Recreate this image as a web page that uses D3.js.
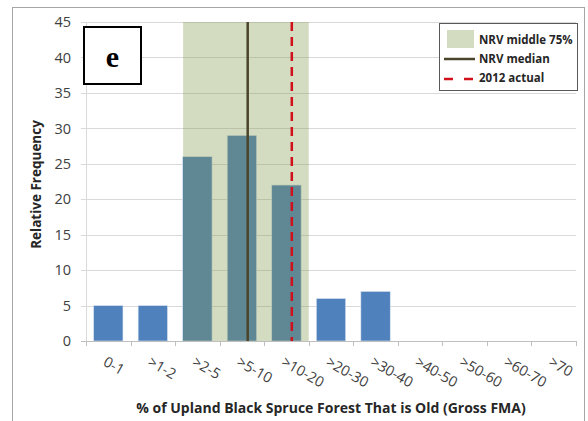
<!DOCTYPE html>
<html><head><meta charset="utf-8">
<script src="https://cdn.jsdelivr.net/npm/d3@7"></script>
<style>
html,body{margin:0;padding:0;background:#fff;}
svg{display:block;}
</style>
</head><body>
<svg id="chart" width="588" height="421"></svg>
<script>
// ---- data ----
const categories = ["0-1", ">1-2", ">2-5", ">5-10", ">10-20", ">20-30", ">30-40", ">40-50", ">50-60", ">60-70", ">70"];
const frequency = [5, 5, 26, 29, 22, 6, 7, 0, 0, 0, 0];
const yTicks = [0, 5, 10, 15, 20, 25, 30, 35, 40, 45];
// positions in category-index units along the x axis
const nrvMiddle75 = [2.18, 5.0];
const nrvMedian = 3.63;
const actual2012 = 4.62;
const legendLabels = ["NRV middle 75%", "NRV median", "2012 actual"];
const panelLabel = "e";
const yTitle = "Relative Frequency";
const xTitle = "% of Upland Black Spruce Forest That is Old (Gross FMA)";

// ---- layout ----
const svg = d3.select("#chart");
const pLeft = 86, pRight = 576, pTop = 22, pBottom = 341;
const font = "'Open Sans', 'Liberation Sans', sans-serif";

const x = d3.scaleBand().domain(categories).range([pLeft, pRight]).paddingInner(0.34).paddingOuter(0.17);
const xi = d3.scaleLinear().domain([0, categories.length]).range([pLeft, pRight]);
const y = d3.scaleLinear().domain([0, 45]).range([pBottom, pTop]);

// outer frame
svg.append("rect").attr("x", 12.5).attr("y", 7.5).attr("width", 572).attr("height", 440)
  .attr("fill", "#fff").attr("stroke", "#a6a6a6").attr("stroke-width", 1);

// grid
svg.append("g").selectAll("line").data(yTicks.filter(d => d > 0)).join("line")
  .attr("x1", pLeft - 5).attr("x2", pRight)
  .attr("y1", d => Math.round(y(d)) + 0.5).attr("y2", d => Math.round(y(d)) + 0.5)
  .attr("stroke", "#d9d9d9").attr("stroke-width", 1);

// y axis line
svg.append("line").attr("x1", pLeft + 0.5).attr("x2", pLeft + 0.5).attr("y1", pTop).attr("y2", pBottom)
  .attr("stroke", "#d9d9d9");

// bars
svg.append("g").selectAll("rect").data(frequency).join("rect")
  .attr("x", (d, i) => x(categories[i]))
  .attr("width", x.bandwidth())
  .attr("y", d => y(d))
  .attr("height", d => y(0) - y(d))
  .attr("fill", "#4f81bd")
  .attr("stroke", "#dfe7f2").attr("stroke-width", 0.6);

// NRV middle 75% shade (translucent, over bars)
svg.append("rect")
  .attr("x", xi(nrvMiddle75[0])).attr("width", xi(nrvMiddle75[1]) - xi(nrvMiddle75[0]))
  .attr("y", y(45)).attr("height", y(0) - y(45))
  .attr("fill", "rgb(126,149,70)").attr("fill-opacity", 0.34);

// x axis line and ticks
svg.append("line").attr("x1", pLeft - 5).attr("x2", pRight).attr("y1", pBottom + 0.5).attr("y2", pBottom + 0.5)
  .attr("stroke", "#bfbfbf");
svg.append("g").selectAll("line").data(d3.range(categories.length + 1)).join("line")
  .attr("x1", d => Math.round(xi(d)) + 0.5).attr("x2", d => Math.round(xi(d)) + 0.5)
  .attr("y1", pBottom).attr("y2", pBottom + 5)
  .attr("stroke", "#bfbfbf");

// median line
svg.append("line").attr("x1", xi(nrvMedian)).attr("x2", xi(nrvMedian)).attr("y1", y(45)).attr("y2", y(0))
  .attr("stroke", "#4a452a").attr("stroke-width", 2.5);

// 2012 actual line
svg.append("line").attr("x1", xi(actual2012)).attr("x2", xi(actual2012)).attr("y1", y(45)).attr("y2", y(0))
  .attr("stroke", "#d0101a").attr("stroke-width", 2.5).attr("stroke-dasharray", "9,6");

// y tick labels
svg.append("g").selectAll("text").data(yTicks).join("text")
  .attr("x", 71).attr("y", d => y(d)).attr("dy", "0.36em")
  .attr("text-anchor", "end").attr("font-family", font).attr("font-size", 14.5).attr("fill", "#404040")
  .text(d => d);

// x tick labels (rotated)
svg.append("g").selectAll("text").data(categories).join("text")
  .attr("transform", d => `translate(${x(d) + x.bandwidth() / 2 - 1},${pBottom + 15}) rotate(30)`)
  .attr("dy", "0.7em")
  .attr("text-anchor", "start").attr("font-family", font).attr("font-size", 14.5).attr("fill", "#404040")
  .text(d => d);

// axis titles
svg.append("text").attr("transform", `translate(41,${(pTop + pBottom) / 2 + 3}) rotate(-90)`)
  .attr("text-anchor", "middle").attr("font-family", font).attr("font-weight", "bold")
  .attr("font-size", 13.5).attr("fill", "#262626").text(yTitle);
svg.append("text").attr("x", 331).attr("y", 413)
  .attr("text-anchor", "middle").attr("font-family", font).attr("font-weight", "bold")
  .attr("font-size", 14).attr("fill", "#262626").text(xTitle);

// panel label box
svg.append("rect").attr("x", 84).attr("y", 27).attr("width", 57).attr("height", 57)
  .attr("fill", "#fff").attr("stroke", "#000").attr("stroke-width", 2);
svg.append("text").attr("x", 112.5).attr("y", 67).attr("text-anchor", "middle")
  .attr("font-family", "'Liberation Serif', 'DejaVu Serif', serif").attr("font-weight", "bold")
  .attr("font-size", 30).attr("fill", "#000").text(panelLabel);

// legend
const lg = svg.append("g");
lg.append("rect").attr("x", 439.5).attr("y", 23.5).attr("width", 138).attr("height", 67)
  .attr("fill", "#fff").attr("stroke", "#595959").attr("stroke-width", 1);
lg.append("rect").attr("x", 447).attr("y", 30).attr("width", 27).attr("height", 18)
  .attr("fill", "rgb(126,149,70)").attr("fill-opacity", 0.34);
lg.append("line").attr("x1", 444).attr("x2", 475).attr("y1", 59).attr("y2", 59)
  .attr("stroke", "#4a452a").attr("stroke-width", 2.5);
lg.append("line").attr("x1", 444).attr("x2", 473).attr("y1", 79).attr("y2", 79)
  .attr("stroke", "#d0101a").attr("stroke-width", 2.5).attr("stroke-dasharray", "9,11");
lg.selectAll("text").data(legendLabels).join("text")
  .attr("x", 479).attr("y", (d, i) => 40 + i * 19).attr("dy", "0.35em")
  .attr("font-family", font).attr("font-weight", "bold").attr("font-size", 11.5).attr("fill", "#262626")
  .text(d => d);
</script>
</body></html>
